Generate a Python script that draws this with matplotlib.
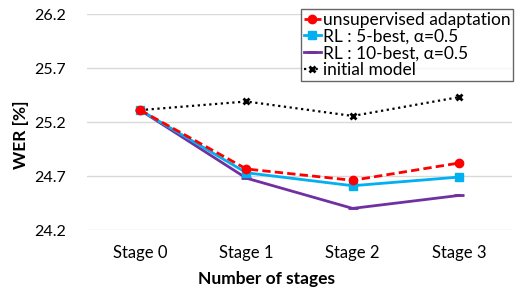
import matplotlib
matplotlib.use("Agg")
import matplotlib.pyplot as plt

plt.rcParams['font.family'] = ['Lato', 'DejaVu Sans']

stages = ["Stage 0", "Stage 1", "Stage 2", "Stage 3"]
unsup = [25.31, 24.765, 24.66, 24.82]
rl5 = [25.31, 24.73, 24.61, 24.69]
rl10 = [25.31, 24.68, 24.40, 24.52]
initial = [25.31, 25.39, 25.256, 25.43]
yticks = [24.2, 24.7, 25.2, 25.7, 26.2]

W, H = 517, 289
fig = plt.figure(figsize=(W/100, H/100), dpi=100)
ax = fig.add_axes([87/W, 59/H, 425/W, 216/H])
x = list(range(len(stages)))

ax.plot(x, initial, color='black', linestyle=(0, (1, 1.6)), linewidth=1.6,
        marker='x', markersize=5, markeredgewidth=2, label='initial model', zorder=3)
ax.plot(x, rl10, color='#7030A0', linewidth=2, marker='_', markersize=7,
        markeredgewidth=2, label='RL : 10-best, α=0.5', zorder=4)
ax.plot(x, rl5, color='#00B0F0', linewidth=2, marker='s', markersize=6,
        label='RL : 5-best, α=0.5', zorder=5)
ax.plot(x, unsup, color='#FF0000', linewidth=2, linestyle=(0, (3, 1.5)), marker='o',
        markersize=6, label='unsupervised adaptation', zorder=6)

ax.set_xlim(-0.5, 3.5)
ax.set_ylim(24.2, 26.2)
ax.set_yticks(yticks)
ax.set_yticklabels([f"{v:.1f}" for v in yticks])
ax.set_xticks(x)
ax.set_xticklabels(stages)
ax.tick_params(axis='x', length=0, labelsize=12, pad=11)
ax.tick_params(axis='y', length=0, labelsize=11.5, pad=15)
ax.grid(axis='y', color='#D9D9D9', linewidth=1)
ax.set_axisbelow(True)
for s in ax.spines.values():
    s.set_visible(False)
ax.set_ylabel('WER [%]', fontsize=12.5, fontweight='bold')
ax.set_xlabel('Number of stages', fontsize=12.5, fontweight='bold')
ax.xaxis.set_label_coords((266 - 87) / 425, -(279 - 230) / 216)
ax.xaxis.label.set_va('center')
ax.yaxis.set_label_coords(-(87 - 21) / 425, (230 - 134.5) / 216)
ax.yaxis.label.set_va('center')

h, l = ax.get_legend_handles_labels()
order = [3, 2, 1, 0]
leg = ax.legend([h[i] for i in order], [l[i] for i in order], loc='upper right',
                bbox_to_anchor=(513/W, 1 - 9/H), bbox_transform=fig.transFigure,
                fontsize=12.5, frameon=True, fancybox=False,
                handlelength=1.0, handletextpad=0.1, borderpad=0.15, labelspacing=0.05,
                borderaxespad=0)
leg.get_frame().set_edgecolor('#404040')
leg.get_frame().set_linewidth(1)

fig.savefig('out.png', dpi=100)
